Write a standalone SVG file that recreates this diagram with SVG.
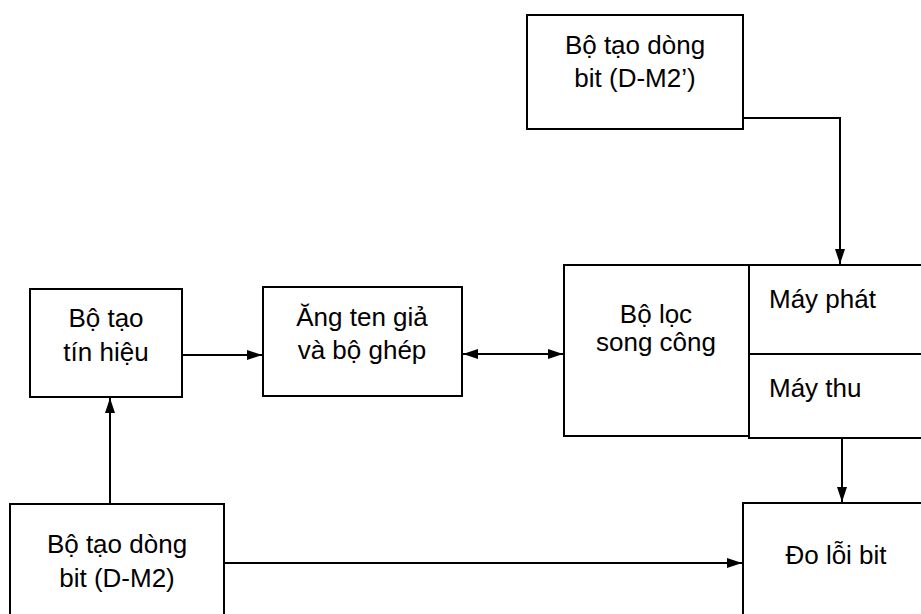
<svg xmlns="http://www.w3.org/2000/svg" width="921" height="614" viewBox="0 0 921 614">
  <style>
    .box { fill: #ffffff; stroke: #000000; stroke-width: 2; }
    .lbl { font-family: "Liberation Sans", Arial, sans-serif; font-size: 26px; fill: #000000; }
    .mid { text-anchor: middle; }
    .wire { fill: none; stroke: #000000; stroke-width: 2; }
  </style>
  <defs>
    <marker id="arrowEnd" viewBox="0 0 15 10" refX="15" refY="5" markerWidth="15" markerHeight="10" markerUnits="userSpaceOnUse" orient="auto">
      <path d="M0,0 L15,5 L0,10 Z" fill="#000000"/>
    </marker>
    <marker id="arrowStart" viewBox="0 0 15 10" refX="0" refY="5" markerWidth="15" markerHeight="10" markerUnits="userSpaceOnUse" orient="auto">
      <path d="M15,0 L0,5 L15,10 Z" fill="#000000"/>
    </marker>
  </defs>

  <!-- connectors -->
  <g id="connectors">
    <path class="wire" d="M743,118 H840 V264" marker-end="url(#arrowEnd)"/>
    <path class="wire" d="M182,355 H262" marker-end="url(#arrowEnd)"/>
    <path class="wire" d="M463,354 H563" marker-start="url(#arrowStart)" marker-end="url(#arrowEnd)"/>
    <path class="wire" d="M842,438 V502" marker-end="url(#arrowEnd)"/>
    <path class="wire" d="M110,504 V398" marker-end="url(#arrowEnd)"/>
    <path class="wire" d="M224,563 H742" marker-end="url(#arrowEnd)"/>
  </g>

  <!-- bit stream generator D-M2' -->
  <g id="gen-dm2p">
    <rect class="box" x="527" y="15" width="216" height="114"/>
    <text class="lbl mid" x="635" y="54">Bộ tạo dòng</text>
    <text class="lbl mid" x="635" y="87">bit (D-M2’)</text>
  </g>

  <!-- signal generator -->
  <g id="sig-gen">
    <rect class="box" x="30" y="289" width="152" height="108"/>
    <text class="lbl mid" x="106" y="327">Bộ tạo</text>
    <text class="lbl mid" x="106" y="361">tín hiệu</text>
  </g>

  <!-- dummy antenna and coupler -->
  <g id="antenna">
    <rect class="box" x="263" y="287" width="199" height="109"/>
    <text class="lbl mid" x="362" y="326">Ăng ten giả</text>
    <text class="lbl mid" x="362" y="359">và bộ ghép</text>
  </g>

  <!-- duplex filter -->
  <g id="duplexer">
    <rect class="box" x="564" y="265" width="185" height="171"/>
    <text class="lbl mid" x="656" y="323">Bộ lọc</text>
    <text class="lbl mid" x="656" y="351">song công</text>
  </g>

  <!-- transmitter / receiver -->
  <g id="transceiver">
    <rect class="box" x="749" y="265" width="185" height="173"/>
    <line class="wire" x1="749" y1="354" x2="934" y2="354"/>
    <text class="lbl" x="769" y="308">Máy phát</text>
    <text class="lbl" x="769" y="397">Máy thu</text>
  </g>

  <!-- bit stream generator D-M2 -->
  <g id="gen-dm2">
    <rect class="box" x="10" y="504" width="214" height="120"/>
    <text class="lbl mid" x="117" y="553">Bộ tạo dòng</text>
    <text class="lbl mid" x="117" y="587">bit (D-M2)</text>
  </g>

  <!-- bit error measurement -->
  <g id="ber">
    <rect class="box" x="743" y="503" width="190" height="121"/>
    <text class="lbl mid" x="836" y="564">Đo lỗi bit</text>
  </g>
</svg>
